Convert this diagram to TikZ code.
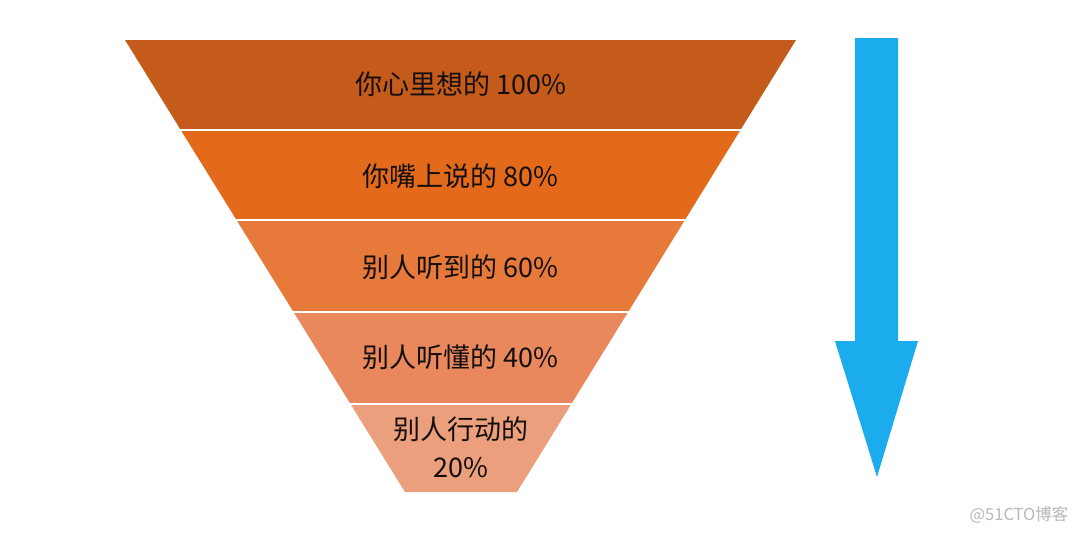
\documentclass[tikz,border=0pt]{standalone}
\usepackage{fontspec}
\newfontfamily\cjk{Noto Sans CJK SC}
\usetikzlibrary{calc}
\definecolor{lay1}{RGB}{197,91,27}
\definecolor{lay2}{RGB}{227,106,26}
\definecolor{lay3}{RGB}{231,121,58}
\definecolor{lay4}{RGB}{232,136,92}
\definecolor{lay5}{RGB}{236,159,124}
\definecolor{arrowblue}{RGB}{26,172,236}
\definecolor{txt}{RGB}{20,15,15}
\newcommand\funnellayer[3]{%
  \fill[#3] ($(TL)!#1!(BL)$) -- ($(TR)!#1!(BR)$) -- ($(TR)!#2!(BR)$) -- ($(TL)!#2!(BL)$) -- cycle;}
\newcommand\funnelgap[1]{%
  \draw[gapline] ($(TL)!#1!(BL)+(-6,0)$) -- ($(TR)!#1!(BR)+(6,0)$);}
\begin{document}
\begin{tikzpicture}[x=1pt,y=-1pt,
  lbl/.style={font=\cjk\fontsize{27}{38}\selectfont, text=txt, align=center, inner sep=0pt},
  gapline/.style={white, line width=2.4pt},
  wm/.style={font=\cjk\fontsize{16.5}{19}\selectfont, text=black!28, inner sep=0pt}]
\useasboundingbox (0,0) rectangle (1080,533);
\fill[white] (0,0) rectangle (1080,533);
\coordinate (TL) at (125,40);
\coordinate (TR) at (796,40);
\coordinate (BL) at (405,492);
\coordinate (BR) at (517,492);
\funnellayer{0}{0.1991}{lay1}
\funnellayer{0.1991}{0.3982}{lay2}
\funnellayer{0.3982}{0.6018}{lay3}
\funnellayer{0.6018}{0.8053}{lay4}
\funnellayer{0.8053}{1}{lay5}
\funnelgap{0.1991}
\funnelgap{0.3982}
\funnelgap{0.6018}
\funnelgap{0.8053}
\node[lbl] (l1) at (460.5,84) {你心里想的 100\%};
\node[lbl] (l2) at (460.5,176) {你嘴上说的 80\%};
\node[lbl] (l3) at (460.5,267) {别人听到的 60\%};
\node[lbl] (l4) at (460.5,357) {别人听懂的 40\%};
\node[lbl] (l5) at (460.5,447) {别人行动的\\20\%};
\fill[arrowblue] (855,38) -- (898,38) -- (898,341) -- (918,341) -- (877,477) -- (835,341) -- (855,341) -- cycle;
\node[wm] (wm) at (1019,515) {@51CTO博客};
\end{tikzpicture}
\end{document}
